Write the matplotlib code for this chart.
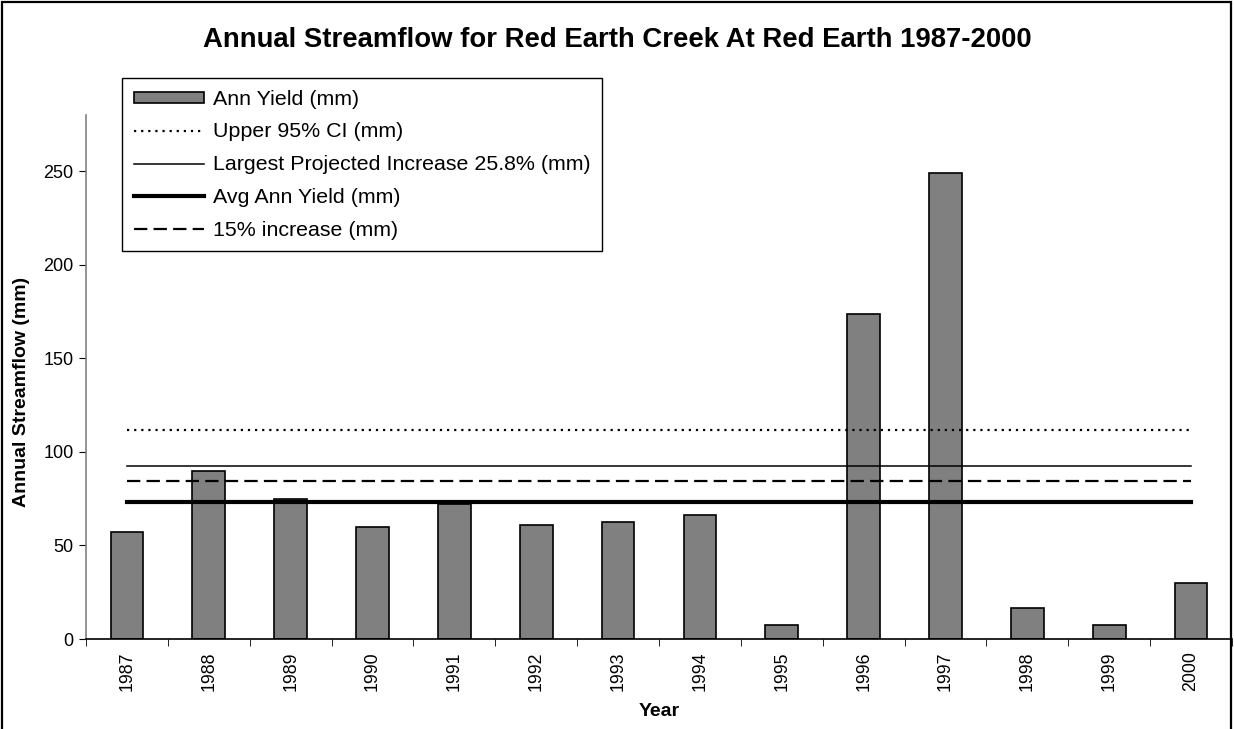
import matplotlib.pyplot as plt
from matplotlib.patches import Rectangle
import numpy as np

plt.rcParams['font.family'] = ['Liberation Sans', 'DejaVu Sans']

years = ['1987', '1988', '1989', '1990', '1991', '1992', '1993',
         '1994', '1995', '1996', '1997', '1998', '1999', '2000']
ann_yield = [57, 89.6, 74.8, 59.8, 72, 60.7, 62.5,
             66.5, 7.5, 173.5, 249, 16.8, 7.5, 30]

# horizontal reference levels (mm)
upper_ci = 111.5
largest_inc = 92.4
avg_yield = 73.4
inc_15 = 84.4

x = np.arange(len(years))
n = len(years)

fig = plt.figure(figsize=(12.34, 7.29), dpi=100)
ax = fig.add_axes([86 / 1234, 1 - 639 / 729, (1232 - 86) / 1234, (639 - 115) / 729])

bars = ax.bar(x, ann_yield, width=0.4, color='#808080', edgecolor='black',
              linewidth=1.2, label='Ann Yield (mm)', zorder=2)
l1, = ax.plot(x, np.full(n, upper_ci), color='black', lw=1.6,
              linestyle=(0, (1, 2.2)), label='Upper 95% CI (mm)', zorder=3)
l2, = ax.plot(x, np.full(n, largest_inc), color='black', lw=1.1,
              label='Largest Projected Increase 25.8% (mm)', zorder=3)
l3, = ax.plot(x, np.full(n, avg_yield), color='black', lw=3,
              label='Avg Ann Yield (mm)', zorder=3)
l4, = ax.plot(x, np.full(n, inc_15), color='black', lw=1.6,
              linestyle=(0, (6, 2.8)), label='15% increase (mm)', zorder=3)

ax.set_xlim(-0.5, n - 0.5)
ax.set_ylim(0, 280)
ax.set_yticks([0, 50, 100, 150, 200, 250])
ax.tick_params(axis='y', labelsize=13, length=5, direction='out', pad=4, color='black')

ax.set_xticks(x)
ax.set_xticklabels(years, rotation=90, fontsize=12.8)
ax.tick_params(axis='x', which='major', length=0, pad=9)
ax.set_xticks(np.arange(-0.5, n, 1.0), minor=True)
ax.tick_params(axis='x', which='minor', length=5, direction='out', color='black')

for s in ['top', 'right']:
    ax.spines[s].set_visible(False)
ax.spines['left'].set_color('#808080')
ax.spines['left'].set_linewidth(1.2)
ax.spines['bottom'].set_color('black')
ax.spines['bottom'].set_linewidth(1.2)

ax.set_xlabel('Year', fontsize=14, fontweight='bold')
ax.xaxis.set_label_coords(0.5, (639 - 703) / 524)
ax.set_ylabel('Annual Streamflow (mm)', fontsize=14, fontweight='bold')
ax.yaxis.set_label_coords((30 - 86) / 1146, 0.472)

fig.text(0.5, 1 - 40 / 729, 'Annual Streamflow for Red Earth Creek At Red Earth 1987-2000',
         ha='center', va='center', fontsize=19.8, fontweight='bold')

leg = ax.legend(handles=[bars, l1, l2, l3, l4], loc='upper left',
                bbox_to_anchor=(122 / 1234, 1 - 78 / 729), bbox_transform=fig.transFigure,
                fontsize=15.4, frameon=True, fancybox=False, framealpha=1,
                edgecolor='black', handlelength=3.3, handleheight=0.4,
                handletextpad=0.4, labelspacing=0.64, borderpad=0.55,
                borderaxespad=0)
leg.get_frame().set_linewidth(1)

# outer chart border
fig.patches.append(Rectangle((2 / 1234, -0.05), 1229 / 1234, 1.05 - 1.5 / 729,
                             transform=fig.transFigure, fill=False,
                             edgecolor='black', linewidth=1.6))

fig.savefig('out.png', dpi=100)
